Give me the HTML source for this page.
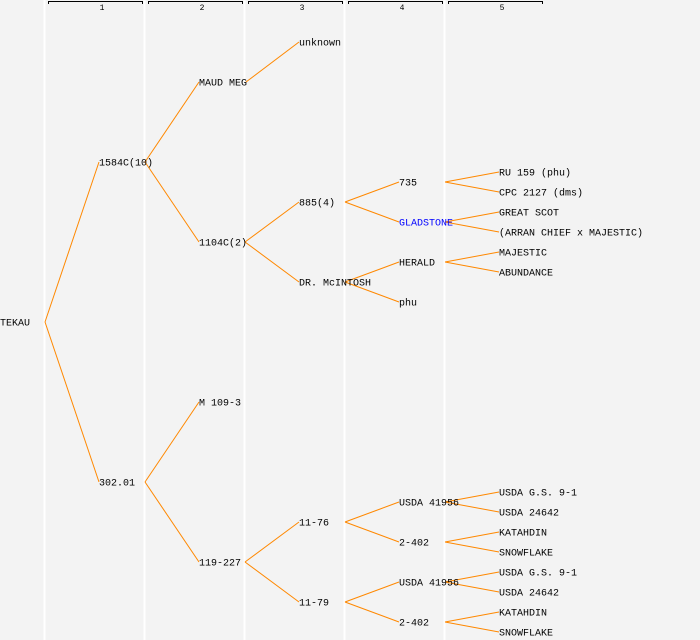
<!DOCTYPE html>
<html><head><meta charset="utf-8"><style>
html,body{margin:0;padding:0;background:#f3f3f3;}
svg{display:block}
text{font-family:"Liberation Mono","DejaVu Sans Mono",monospace;font-size:10px;fill:#000;dominant-baseline:central;transform:translateY(2px)}
.h{font-size:8px;text-anchor:middle;dominant-baseline:auto;transform:none}
line.c{stroke:#ff8800;stroke-width:1}
</style></head><body>
<svg width="700" height="640" xmlns="http://www.w3.org/2000/svg">
<rect width="700" height="640" fill="#f3f3f3"/>
<g stroke="#ffffff" stroke-width="2">
<line x1="44.5" y1="0" x2="44.5" y2="640"/><line x1="144.5" y1="0" x2="144.5" y2="640"/>
<line x1="244.5" y1="0" x2="244.5" y2="640"/><line x1="344.5" y1="0" x2="344.5" y2="640"/>
<line x1="444.5" y1="0" x2="444.5" y2="640"/>
</g>
<g fill="none" stroke="#000" stroke-width="1">
<path d="M48.5,4 V1.5 H142.5 V4"/><path d="M148.5,4 V1.5 H242.5 V4"/><path d="M248.5,4 V1.5 H342.5 V4"/>
<path d="M348.5,4 V1.5 H442.5 V4"/><path d="M448.5,4 V1.5 H542.5 V4"/>
</g>
<text class="h" x="102" y="10">1</text><text class="h" x="202" y="10">2</text><text class="h" x="302" y="10">3</text><text class="h" x="402" y="10">4</text><text class="h" x="502" y="10">5</text>
<g>
<line class="c" x1="45" y1="322" x2="99" y2="162"/><line class="c" x1="45" y1="322" x2="99" y2="482"/>
<line class="c" x1="145" y1="162" x2="199" y2="82"/><line class="c" x1="145" y1="162" x2="199" y2="242"/>
<line class="c" x1="246" y1="82" x2="299" y2="42"/>
<line class="c" x1="245" y1="242" x2="299" y2="202"/><line class="c" x1="245" y1="242" x2="299" y2="282"/>
<line class="c" x1="345" y1="202" x2="399" y2="182"/><line class="c" x1="345" y1="202" x2="399" y2="222"/>
<line class="c" x1="345" y1="282" x2="399" y2="262"/><line class="c" x1="345" y1="282" x2="399" y2="302"/>
<line class="c" x1="445" y1="182" x2="499" y2="172"/><line class="c" x1="445" y1="182" x2="499" y2="192"/>
<line class="c" x1="445" y1="222" x2="499" y2="212"/><line class="c" x1="445" y1="222" x2="499" y2="232"/>
<line class="c" x1="445" y1="262" x2="499" y2="252"/><line class="c" x1="445" y1="262" x2="499" y2="272"/>
<line class="c" x1="145" y1="482" x2="199" y2="402"/><line class="c" x1="145" y1="482" x2="199" y2="562"/>
<line class="c" x1="245" y1="562" x2="299" y2="522"/><line class="c" x1="245" y1="562" x2="299" y2="602"/>
<line class="c" x1="345" y1="522" x2="399" y2="502"/><line class="c" x1="345" y1="522" x2="399" y2="542"/>
<line class="c" x1="345" y1="602" x2="399" y2="582"/><line class="c" x1="345" y1="602" x2="399" y2="622"/>
<line class="c" x1="445" y1="502" x2="499" y2="492"/><line class="c" x1="445" y1="502" x2="499" y2="512"/>
<line class="c" x1="445" y1="542" x2="499" y2="532"/><line class="c" x1="445" y1="542" x2="499" y2="552"/>
<line class="c" x1="445" y1="582" x2="499" y2="572"/><line class="c" x1="445" y1="582" x2="499" y2="592"/>
<line class="c" x1="445" y1="622" x2="499" y2="612"/><line class="c" x1="445" y1="622" x2="499" y2="632"/>
</g>
<text x="0" y="322">TEKAU</text>
<text x="99" y="162">1584C(10)</text>
<text x="99" y="482">302.01</text>
<text x="199" y="82">MAUD MEG</text>
<text x="199" y="242">1104C(2)</text>
<text x="199" y="402">M 109-3</text>
<text x="199" y="562">119-227</text>
<text x="299" y="42">unknown</text>
<text x="299" y="202">885(4)</text>
<text x="299" y="282">DR. McINTOSH</text>
<text x="299" y="522">11-76</text>
<text x="299" y="602">11-79</text>
<text x="399" y="182">735</text>
<text x="399" y="222" style="fill:#0000ff">GLADSTONE</text>
<text x="399" y="262">HERALD</text>
<text x="399" y="302">phu</text>
<text x="399" y="502">USDA 41956</text>
<text x="399" y="542">2-402</text>
<text x="399" y="582">USDA 41956</text>
<text x="399" y="622">2-402</text>
<text x="499" y="172">RU 159 (phu)</text>
<text x="499" y="192">CPC 2127 (dms)</text>
<text x="499" y="212">GREAT SCOT</text>
<text x="499" y="232">(ARRAN CHIEF x MAJESTIC)</text>
<text x="499" y="252">MAJESTIC</text>
<text x="499" y="272">ABUNDANCE</text>
<text x="499" y="492">USDA G.S. 9-1</text>
<text x="499" y="512">USDA 24642</text>
<text x="499" y="532">KATAHDIN</text>
<text x="499" y="552">SNOWFLAKE</text>
<text x="499" y="572">USDA G.S. 9-1</text>
<text x="499" y="592">USDA 24642</text>
<text x="499" y="612">KATAHDIN</text>
<text x="499" y="632">SNOWFLAKE</text>
</svg>
</body></html>
